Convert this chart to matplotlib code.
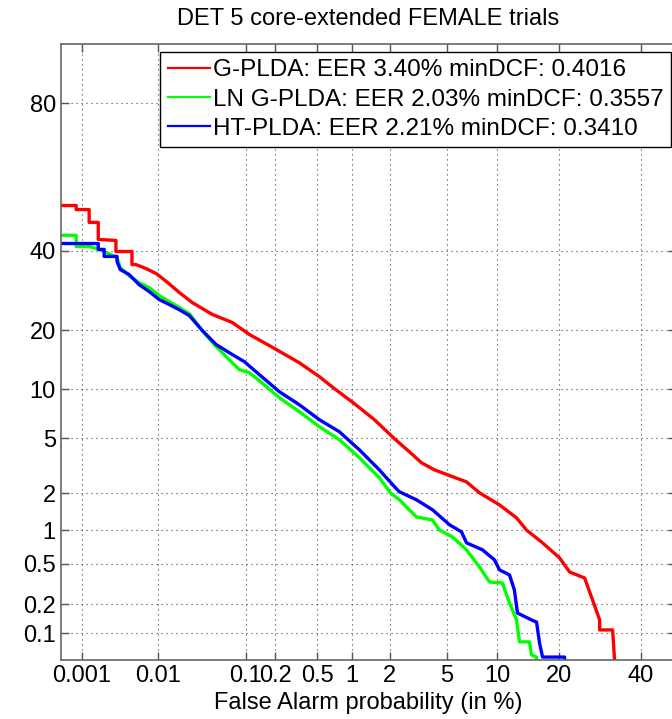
import numpy as np
import matplotlib
matplotlib.use('Agg')
import matplotlib.pyplot as plt
from matplotlib.ticker import FixedLocator, FixedFormatter
from statistics import NormalDist

plt.rcParams['font.family'] = ['Liberation Sans', 'DejaVu Sans']

# false alarm (%) / miss (%)
gplda_fa = [0.0005, 0.00083, 0.00083, 0.00126, 0.00126, 0.00168, 0.00168, 0.0029, 0.0029, 0.0047, 0.0047, 0.0053,
            0.0071, 0.0095, 0.0127, 0.0181, 0.0257, 0.0436, 0.0724, 0.1096, 0.197, 0.343, 0.523, 0.709, 1.047, 1.52,
            2.16, 2.78, 3.38, 4.15, 5.04, 6.63, 7.92, 10.26, 12.61, 14.16, 16.90, 20.16, 22.25, 25.59, 27.46, 29.18,
            29.18, 32.46, 32.96]
gplda_miss = [53.3, 53.3, 52.1, 52.1, 48.3, 48.3, 43.3, 43.0, 39.8, 39.8, 36.1, 36.1,
              35.0, 33.65, 31.5, 28.7, 26.2, 23.4, 21.6, 19.1, 16.4, 13.9, 11.75, 10.1, 8.26, 6.59,
              4.97, 4.05, 3.39, 3.01, 2.77, 2.45, 2.02, 1.62, 1.27, 1.00, 0.774, 0.566, 0.418, 0.366, 0.222, 0.138,
              0.108, 0.108, 0.05]

ln_fa = [0.0005, 0.00083, 0.00083, 0.00126, 0.00173, 0.0030, 0.0033, 0.0043, 0.0058, 0.0078, 0.0104, 0.0138,
         0.0181, 0.0238, 0.0336, 0.046, 0.067, 0.086, 0.1096, 0.156, 0.22, 0.343, 0.523, 0.783, 1.15, 1.66,
         2.02, 2.35, 3.12, 4.02, 4.47, 5.42, 6.63, 7.92, 9.03, 10.64, 11.60, 12.61, 13.06, 14.64, 14.98, 15.84, 15.84]
ln_miss = [44.5, 44.5, 41.25, 41.25, 40.4, 38.1, 35.3, 33.1, 31.2, 29.9, 27.9, 26.4,
           25.0, 23.6, 19.9, 17.1, 14.4, 12.8, 12.35, 10.6, 8.95, 7.38, 5.95, 4.89, 3.68, 2.63,
           2.02, 1.78, 1.29, 1.22, 1.00, 0.873, 0.670, 0.466, 0.335, 0.327, 0.207, 0.138, 0.080, 0.080, 0.057, 0.054, 0.05]

ht_fa = [0.0005, 0.00168, 0.00168, 0.00202, 0.00202, 0.0030, 0.0030, 0.0033, 0.0043, 0.0058, 0.0078, 0.0104,
         0.0138, 0.0181, 0.0238, 0.0336, 0.0483, 0.0724, 0.097, 0.139, 0.22, 0.343, 0.523, 0.783, 1.15, 1.66,
         2.20, 2.35, 3.12, 4.02, 5.20, 6.18, 6.63, 8.24, 9.63, 10.26, 11.60, 12.30, 12.76, 14.98, 15.84, 16.36,
         16.90, 21.19, 21.19]
ht_miss = [42.1, 42.1, 40.4, 40.4, 38.4, 38.4, 37.0, 34.75, 33.4, 30.7, 28.9, 26.9,
           25.7, 24.5, 23.15, 19.9, 17.1, 15.3, 14.1, 12.05, 9.7, 8.13, 6.59, 5.52, 4.18, 3.01,
           2.21, 2.06, 1.78, 1.48, 1.11, 0.965, 0.774, 0.670, 0.542, 0.437, 0.392, 0.279, 0.163, 0.138, 0.131, 0.078,
           0.054, 0.054, 0.05]

labels = ['G-PLDA: EER 3.40% minDCF: 0.4016',
          'LN G-PLDA: EER 2.03% minDCF: 0.3557',
          'HT-PLDA: EER 2.21% minDCF: 0.3410']

x_ticks = [0.001, 0.01, 0.1, 0.2, 0.5, 1, 2, 5, 10, 20, 40]
x_tick_labels = ['0.001', '0.01', '0.1', '0.2', '0.5', '1', '2', '5', '10', '20', '40']
y_ticks = [0.1, 0.2, 0.5, 1, 2, 5, 10, 20, 40, 80]
y_tick_labels = ['0.1', '0.2', '0.5', '1', '2', '5', '10', '20', '40', '80']

nd = NormalDist()
_ppf = np.vectorize(lambda p: nd.inv_cdf(min(max(p / 100.0, 1e-12), 1 - 1e-12)), otypes=[float])
_cdf = np.vectorize(lambda z: 100.0 * nd.cdf(z), otypes=[float])

fig = plt.figure(figsize=(6.72, 7.19), dpi=100)
ax = fig.add_axes([60.7 / 672, 59 / 719, 615.3 / 672, 616 / 719])
ax.set_xscale('function', functions=(_ppf, _cdf))
ax.set_yscale('function', functions=(_ppf, _cdf))

ax.plot(gplda_fa, gplda_miss, color='#ff0000', linewidth=2.4, label=labels[0])
ax.plot(ln_fa, ln_miss, color='#00ff00', linewidth=2.4, label=labels[1])
ax.plot(ht_fa, ht_miss, color='#0000ff', linewidth=2.4, label=labels[2])

ax.set_xlim(0.0005, 50)
ax.set_ylim(0.05, 90)
ax.xaxis.set_major_locator(FixedLocator(x_ticks))
ax.xaxis.set_major_formatter(FixedFormatter(x_tick_labels))
ax.yaxis.set_major_locator(FixedLocator(y_ticks))
ax.yaxis.set_major_formatter(FixedFormatter(y_tick_labels))
ax.xaxis.set_minor_locator(FixedLocator([]))
ax.yaxis.set_minor_locator(FixedLocator([]))

ax.grid(True, linestyle=(0, (1, 3.5)), color='#444444', linewidth=0.8)
ax.tick_params(direction='in', length=6, width=1, colors='#555555', labelcolor='black',
               labelsize=17, top=True, right=True)
for s in ax.spines.values():
    s.set_color('#666666')
    s.set_linewidth(1.2)

ax.set_title('DET 5 core-extended FEMALE trials', fontsize=17, pad=14)
ax.set_xlabel('False Alarm probability (in %)', fontsize=17, labelpad=4)

leg = ax.legend(loc='upper right', bbox_to_anchor=(671 / 672, 1 - 52 / 719), bbox_transform=fig.transFigure,
                borderaxespad=0, fontsize=17.5, frameon=True, fancybox=False, handlelength=1.75,
                handletextpad=0.12, labelspacing=0.3, borderpad=0.3, framealpha=1)
leg.get_frame().set_edgecolor('black')
leg.get_frame().set_linewidth(1.0)
for h in leg.get_lines():
    h.set_linewidth(1.6)

fig.savefig('out.png', dpi=100)
